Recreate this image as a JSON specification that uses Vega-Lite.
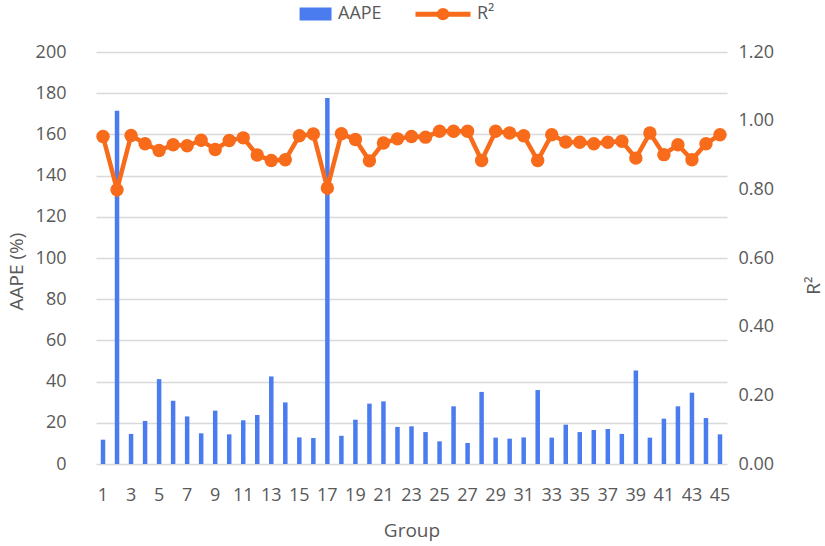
{
  "$schema": "https://vega.github.io/schema/vega-lite/v6.json",
  "autosize": {"type": "none"},
  "padding": {"left": 96, "top": 52, "right": 98, "bottom": 82},
  "width": 631,
  "height": 412,
  "background": "white",
  "config": {
    "view": {"stroke": null},
    "font": "Open Sans",
    "axis": {"labelColor": "#595959", "titleColor": "#595959", "labelFontSize": 18, "titleFontSize": 19, "titleFontWeight": "normal", "domain": false, "ticks": false}
  },
  "data": {"values": [
    {"g": 1, "aape": 11.8, "r2": 0.954},
    {"g": 2, "aape": 171.5, "r2": 0.799},
    {"g": 3, "aape": 14.6, "r2": 0.957},
    {"g": 4, "aape": 20.9, "r2": 0.933},
    {"g": 5, "aape": 41.2, "r2": 0.913},
    {"g": 6, "aape": 30.7, "r2": 0.930},
    {"g": 7, "aape": 23.1, "r2": 0.927},
    {"g": 8, "aape": 14.9, "r2": 0.943},
    {"g": 9, "aape": 25.9, "r2": 0.916},
    {"g": 10, "aape": 14.4, "r2": 0.942},
    {"g": 11, "aape": 21.2, "r2": 0.950},
    {"g": 12, "aape": 23.8, "r2": 0.900},
    {"g": 13, "aape": 42.5, "r2": 0.884},
    {"g": 14, "aape": 29.9, "r2": 0.886},
    {"g": 15, "aape": 12.9, "r2": 0.956},
    {"g": 16, "aape": 12.6, "r2": 0.961},
    {"g": 17, "aape": 177.7, "r2": 0.804},
    {"g": 18, "aape": 13.7, "r2": 0.962},
    {"g": 19, "aape": 21.5, "r2": 0.945},
    {"g": 20, "aape": 29.3, "r2": 0.883},
    {"g": 21, "aape": 30.4, "r2": 0.935},
    {"g": 22, "aape": 18.0, "r2": 0.947},
    {"g": 23, "aape": 18.3, "r2": 0.954},
    {"g": 24, "aape": 15.5, "r2": 0.952},
    {"g": 25, "aape": 11.0, "r2": 0.969},
    {"g": 26, "aape": 28.0, "r2": 0.969},
    {"g": 27, "aape": 10.2, "r2": 0.969},
    {"g": 28, "aape": 35.0, "r2": 0.884},
    {"g": 29, "aape": 12.8, "r2": 0.969},
    {"g": 30, "aape": 12.3, "r2": 0.964},
    {"g": 31, "aape": 12.9, "r2": 0.956},
    {"g": 32, "aape": 35.9, "r2": 0.884},
    {"g": 33, "aape": 12.8, "r2": 0.959},
    {"g": 34, "aape": 19.1, "r2": 0.938},
    {"g": 35, "aape": 15.5, "r2": 0.937},
    {"g": 36, "aape": 16.5, "r2": 0.933},
    {"g": 37, "aape": 17.0, "r2": 0.937},
    {"g": 38, "aape": 14.6, "r2": 0.940},
    {"g": 39, "aape": 45.4, "r2": 0.891},
    {"g": 40, "aape": 12.8, "r2": 0.964},
    {"g": 41, "aape": 22.0, "r2": 0.901},
    {"g": 42, "aape": 28.0, "r2": 0.930},
    {"g": 43, "aape": 34.6, "r2": 0.886},
    {"g": 44, "aape": 22.3, "r2": 0.933},
    {"g": 45, "aape": 14.4, "r2": 0.959}
  ]},
  "encoding": {
    "x": {
      "field": "g", "type": "ordinal",
      "scale": {"paddingInner": 0, "paddingOuter": 0},
      "axis": {"title": "Group", "labelAngle": 0, "labelPadding": 22, "titlePadding": 17, "grid": false,
               "values": [1,3,5,7,9,11,13,15,17,19,21,23,25,27,29,31,33,35,37,39,41,43,45]}
    }
  },
  "layer": [
    {
      "mark": {"type": "bar", "size": 4.5},
      "encoding": {
        "y": {"field": "aape", "type": "quantitative",
              "scale": {"domain": [0, 200], "nice": false},
              "axis": {"title": "AAPE (%)", "values": [0,20,40,60,80,100,120,140,160,180,200], "grid": true, "gridColor": "#d9d9d9", "gridWidth": 1.5, "labelPadding": 30,
                       "titleAngle": 270, "titleX": -80, "titleY": 219, "titleAlign": "center", "titleBaseline": "middle"}},
        "color": {"datum": "AAPE", "type": "nominal",
                  "scale": {"domain": ["AAPE", "R²"], "range": ["#4A7CF0", "#F86B1A"]},
                  "legend": {
                    "title": null, "orient": "none", "direction": "horizontal", "legendX": 178, "legendY": -68,
                    "labelFontSize": 18, "labelColor": "#595959", "labelFont": "Open Sans",
                    "symbolSize": 3025, "symbolStrokeWidth": 5, "labelOffset": 4, "columnPadding": 23,
                    "encode": {"symbols": {"update": {
                      "shape": {"signal": "datum.value === 'AAPE' ? 'M-0.07,-0.145H0.91V0.145H-0.07Z' : 'M-1,0H1M0.135,0A0.135,0.135,0,1,1,-0.135,0A0.135,0.135,0,1,1,0.135,0Z'"},
                      "fill": {"signal": "datum.value === 'AAPE' ? '#4A7CF0' : '#F86B1A'"},
                      "stroke": {"signal": "datum.value === 'AAPE' ? '#4A7CF0' : '#F86B1A'"},
                      "strokeWidth": {"value": 5},
                      "opacity": {"value": 1}, "fillOpacity": {"value": 1}, "strokeOpacity": {"value": 1}
                    }}}
                  }}
      }
    },
    {
      "mark": {"type": "line", "strokeWidth": 4.5, "point": {"filled": true, "size": 180, "opacity": 1}},
      "encoding": {
        "y": {"field": "r2", "type": "quantitative",
              "scale": {"domain": [0, 1.2], "nice": false},
              "axis": {"title": "R²", "orient": "right", "format": ".2f", "values": [0,0.2,0.4,0.6,0.8,1.0,1.2], "grid": false, "labelPadding": 11,
                       "titleAngle": 270, "titleX": 86, "titleY": 233, "titleAlign": "center", "titleBaseline": "middle"}},
        "color": {"datum": "R²", "type": "nominal"}
      }
    }
  ],
  "resolve": {"scale": {"y": "independent"}}
}
